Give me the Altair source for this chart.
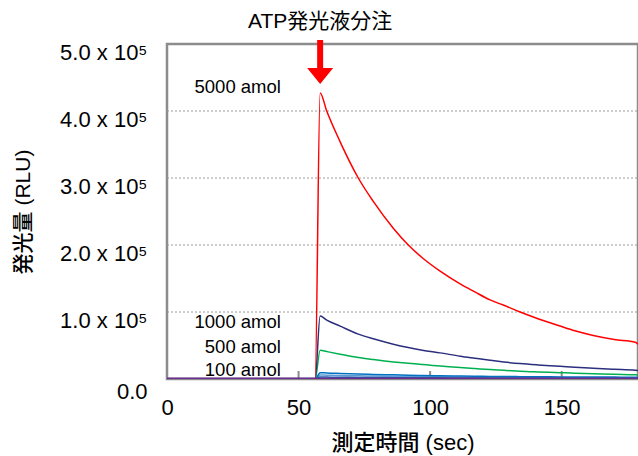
import altair as alt
import pandas as pd

# time (sec)
time = [0, 56.3, 58.2, 60.7, 65.8, 72.7, 78.4, 86, 91.7, 97, 103.8, 111.4, 117, 122.8, 128, 134.2,
        141, 149.4, 155, 162, 170, 178, 179]
# luminescence in units of 1e5 RLU
s5000 = [0, 0, 4.27, 4.00, 3.54, 3.00, 2.65, 2.25, 2.00, 1.81, 1.61, 1.42, 1.30, 1.18, 1.10, 1.00,
         0.90, 0.79, 0.72, 0.65, 0.59, 0.55, 0.52]
s1000 = [0, 0, 0.94, 0.88, 0.79, 0.67, 0.60, 0.52, 0.47, 0.43, 0.39, 0.34, 0.31, 0.28, 0.255, 0.23,
         0.21, 0.19, 0.175, 0.16, 0.145, 0.13, 0.125]
s500 = [0, 0, 0.43, 0.41, 0.37, 0.32, 0.29, 0.255, 0.235, 0.215, 0.195, 0.17, 0.155, 0.14, 0.13, 0.115,
        0.105, 0.095, 0.087, 0.08, 0.07, 0.062, 0.06]
s100 = [0, 0, 0.095, 0.09, 0.083, 0.074, 0.068, 0.062, 0.057, 0.053, 0.049, 0.045, 0.042, 0.039, 0.037,
        0.035, 0.033, 0.031, 0.030, 0.029, 0.028, 0.027, 0.026]
s50 = [0, 0, 0.06, 0.057, 0.053, 0.048, 0.044, 0.040, 0.037, 0.035, 0.032, 0.029, 0.027, 0.026, 0.024,
       0.023, 0.022, 0.021, 0.020, 0.019, 0.018, 0.017, 0.017]
s10 = [0, 0, 0.03, 0.028, 0.026, 0.024, 0.022, 0.020, 0.019, 0.018, 0.017, 0.015, 0.014, 0.013, 0.013,
       0.012, 0.011, 0.011, 0.010, 0.010, 0.010, 0.009, 0.009]
s0 = [0] * len(time)

series_names = ["50 amol", "10 amol", "100 amol", "500 amol", "1000 amol", "5000 amol", "0 amol"]
series_vals = [s50, s10, s100, s500, s1000, s5000, s0]
series_colors = ["#5B9BD5", "#1F5FAF", "#0070C0", "#00B050", "#2B2F7E", "#FF0000", "#6A2C8E"]
series_widths = [1.5, 1.5, 1.5, 1.5, 1.5, 1.5, 3]

grid_vals = [100000, 200000, 300000, 400000]
xtick_vals = [50, 100, 150]

label_text = ["5000 amol", "1000 amol", "500 amol", "100 amol"]
label_t = [43.3, 43.3, 43.3, 43.3]
label_v = [4.36, 0.855, 0.48, 0.134]

inject_t = 58.2
inject_text = "ATP発光液分注"

FONT = "Liberation Sans, Noto Sans CJK JP"

xscale = alt.Scale(domain=[0, 179], nice=False, zero=False)
yscale = alt.Scale(domain=[0, 500000], nice=False)

xaxis = alt.Axis(values=[0, 50, 100, 150], labelFontSize=22, labelFont=FONT, labelColor="#000",
                 labelPadding=18, domain=False, ticks=False, grid=False, labelFlush=False,
                 title="測定時間 (sec)", titleFont=FONT, titleFontSize=22, titleFontWeight=500,
                 titleColor="#000", titlePadding=14)
yaxis = alt.Axis(values=[0, 100000, 200000, 300000, 400000, 500000],
                 labelExpr="datum.value == 0 ? '0.0\u00a0\u00a0\u00a0' : format(datum.value/100000, '.1f') + ' x 10\u2075'",
                 labelFontSize=22, labelFont=FONT, labelColor="#000", labelPadding=20,
                 labelOffset={"expr": "datum.value == 0 ? 12 : 8"},
                 domain=False, ticks=False, grid=False,
                 title="発光量 (RLU)", titleFont=FONT, titleFontSize=21, titleFontWeight=500,
                 titleColor="#000", titlePadding=26)

def X(field="t"):
    return alt.X(f"{field}:Q", scale=xscale, axis=xaxis)

def Y(field="v"):
    return alt.Y(f"{field}:Q", scale=yscale, axis=yaxis)

grid = alt.Chart(pd.DataFrame({"v": grid_vals})).mark_rule(
    color="#9a9a9a", strokeDash=[2, 2], strokeWidth=1
).encode(y=Y(), x=alt.value(0), x2=alt.value(471))

ticks = alt.Chart(pd.DataFrame({"t": xtick_vals})).mark_rule(
    color="#8c8c8c", strokeWidth=2
).encode(x=X(), y=alt.value(335), y2=alt.value(327))

layers = [grid, ticks]
for name, vals, col, w in zip(series_names, series_vals, series_colors, series_widths):
    df = pd.DataFrame({"t": time, "v": [v * 100000 for v in vals]})
    layers.append(
        alt.Chart(df).mark_line(color=col, strokeWidth=w, interpolate="monotone", clip=True)
        .encode(x=X(), y=Y())
    )

labels = alt.Chart(pd.DataFrame({"t": label_t, "v": [v * 100000 for v in label_v], "txt": label_text})).mark_text(
    align="right", baseline="middle", fontSize=18.5, font=FONT, color="#000"
).encode(x=X(), y=Y(), text="txt:N")

arrow = alt.Chart(pd.DataFrame({"t": [inject_t]})).mark_point(
    shape="M-0.23,-1.69 L0.23,-1.69 L0.23,0.46 L1,0.46 L0,1.69 L-1,0.46 L-0.23,0.46 Z",
    size=676, filled=True, color="#FF0000", opacity=1, strokeWidth=0
).encode(x=X(), y=alt.value(18))

title = alt.Chart(pd.DataFrame({"t": [inject_t], "txt": [inject_text]})).mark_text(
    align="center", baseline="middle", fontSize=21, font=FONT, color="#000"
).encode(x=X(), y=alt.value(-22), text="txt:N")

layers += [labels, arrow, title]

chart = alt.layer(*layers).properties(
    width=471, height=335,
    padding={"left": 167, "top": 44, "right": 0, "bottom": 77},
    autosize=alt.AutoSizeParams(type="none"),
).configure_view(stroke="#8c8c8c", strokeWidth=2.5)

chart.save("out.html", embed_options={"renderer": "svg", "actions": False})
